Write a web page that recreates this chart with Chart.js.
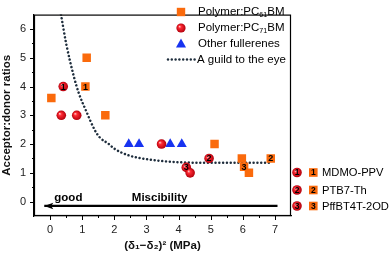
<!DOCTYPE html>
<html><head><meta charset="utf-8">
<script src="https://cdn.jsdelivr.net/npm/chart.js@4/dist/chart.umd.min.js"></script>
<style>html,body{margin:0;padding:0;background:#fff}#w{width:392px;height:255px;position:relative}</style>
</head><body><div id="w"><canvas id="c"></canvas></div>
<script>
// ---- data ----
const xTicks = [0, 1, 2, 3, 4, 5, 6, 7];
const yTicks = [0, 1, 2, 3, 4, 5, 6];
const pc61X = [0.04, 1.14, 1.10, 1.72, 5.12, 5.97, 6.04, 6.19, 6.87];
const pc61Y = [3.6, 5.0, 4.0, 3.0, 2.0, 1.5, 1.21, 1.0, 1.5];
const pc61Tags = ['', '', '1', '', '', '', '3', '', '2'];
const pc71X = [0.41, 0.35, 0.83, 3.47, 4.24, 4.36, 4.95];
const pc71Y = [4.0, 3.0, 3.0, 2.0, 1.19, 1.0, 1.5];
const pc71Tags = ['1', '', '', '', '3', '', '2'];
const otherX = [2.45, 2.77, 3.74, 4.10];
const otherY = [2.0, 2.0, 2.0, 2.0];
const guideX = [0.34, 0.5, 0.74, 0.9, 1.12, 1.38, 1.54, 1.83, 2.0, 2.47, 3.1, 4.0, 5.0, 6.0, 6.85];
const guideY = [6.5, 5.5, 4.35, 3.75, 3.16, 2.51, 2.24, 2.0, 1.84, 1.6, 1.46, 1.37, 1.35, 1.35, 1.35];
const arrowX = [7.08, -0.18];
const arrowY = [-0.15, -0.15];
const seriesNames = ['Polymer:PC61BM', 'Polymer:PC71BM', 'Other fullerenes', 'A guild to the eye'];
const polymerNames = ['MDMO-PPV', 'PTB7-Th', 'PffBT4T-2OD'];
const polymerTags = ['1', '2', '3'];

const ORANGE = '#fa6a0c', RED = '#e8101e', BLUE = '#1733f0', DOT = '#1e2d3c';
const FONT = '"Liberation Sans", Arial, sans-serif';

const pts = (xs, ys) => xs.map((x, i) => ({x, y: ys[i]}));

function redGrad(ctx, px, py, r) {
  const g = ctx.createRadialGradient(px - r * 0.35, py - r * 0.35, 0.2, px, py, r);
  g.addColorStop(0, '#ffc4c4');
  g.addColorStop(0.3, '#ff2a34');
  g.addColorStop(1, '#b2000c');
  return g;
}

function richText(ctx, parts, x, y, size, bold) {
  let cx = x;
  for (const p of parts) {
    const s = p.sub || p.sup ? size * 0.62 : size;
    ctx.font = (p.italic ? 'italic ' : '') + (bold ? 'bold ' : '') + s + 'px ' + FONT;
    const dy = p.sub ? size * 0.3 : (p.sup ? -size * 0.35 : 0);
    ctx.fillText(p.t, cx, y + dy);
    cx += ctx.measureText(p.t).width;
  }
}

const deco = {
  id: 'deco',
  beforeDatasetsDraw(chart) {
    const {ctx, chartArea: a, scales: {x, y}} = chart;
    ctx.save();
    ctx.strokeStyle = '#000';
    ctx.lineWidth = 1;
    ctx.beginPath();
    yTicks.forEach(v => {
      const py = Math.round(y.getPixelForValue(v)) + 0.5;
      ctx.moveTo(a.left - 4, py); ctx.lineTo(a.left, py);
      const m = v + 0.5;
      if (m < y.max) { const pm = Math.round(y.getPixelForValue(m)) + 0.5; ctx.moveTo(a.left - 2, pm); ctx.lineTo(a.left, pm); }
    });
    xTicks.forEach(v => {
      const px = Math.round(x.getPixelForValue(v)) + 0.5;
      ctx.moveTo(px, a.bottom); ctx.lineTo(px, a.bottom + 4);
      const m = v + 0.5;
      if (m < x.max) { const pm = Math.round(x.getPixelForValue(m)) + 0.5; ctx.moveTo(pm, a.bottom); ctx.lineTo(pm, a.bottom + 2); }
    });
    ctx.stroke();
    ctx.restore();
  },
  afterDatasetsDraw(chart) {
    const {ctx, chartArea: a, scales: {x, y}} = chart;
    ctx.save();
    // frame
    ctx.strokeStyle = '#000';
    ctx.lineWidth = 1.2;
    ctx.strokeRect(a.left + 0.5, a.top + 0.5, a.right - a.left - 1, a.bottom - a.top - 1);
    // arrow head
    const tx = x.getPixelForValue(arrowX[1]), ty = y.getPixelForValue(arrowY[1]);
    ctx.fillStyle = '#000';
    ctx.beginPath();
    ctx.moveTo(tx, ty); ctx.lineTo(tx + 9, ty - 3.2); ctx.lineTo(tx + 7, ty); ctx.lineTo(tx + 9, ty + 3.2);
    ctx.closePath(); ctx.fill();
    // arrow texts
    ctx.font = 'bold 11.5px ' + FONT;
    ctx.textAlign = 'center'; ctx.textBaseline = 'middle';
    ctx.fillText('good', x.getPixelForValue(0.57), y.getPixelForValue(0.14));
    ctx.fillText('Miscibility', x.getPixelForValue(3.41), y.getPixelForValue(0.14));
    // tags inside markers
    ctx.font = 'bold 9px ' + FONT;
    ctx.fillStyle = '#000';
    const tag = (xs, ys, tags) => tags.forEach((t, i) => {
      if (t) ctx.fillText(t, x.getPixelForValue(xs[i]), y.getPixelForValue(ys[i]) + 0.5);
    });
    tag(pc61X, pc61Y, pc61Tags);
    tag(pc71X, pc71Y, pc71Tags);
    // inner legend
    const lx = 181, tx0 = 198, rows = [12, 28, 44, 59.5];
    ctx.fillStyle = ORANGE; ctx.fillRect(lx - 4.2, rows[0] - 4.2, 8.4, 8.4);
    ctx.fillStyle = redGrad(ctx, lx, rows[1], 4.6);
    ctx.beginPath(); ctx.arc(lx, rows[1], 4.6, 0, Math.PI * 2); ctx.fill();
    ctx.fillStyle = BLUE; ctx.beginPath();
    ctx.moveTo(lx, rows[2] - 5.5); ctx.lineTo(lx + 5, rows[2] + 3.5); ctx.lineTo(lx - 5, rows[2] + 3.5); ctx.closePath(); ctx.fill();
    ctx.fillStyle = DOT;
    for (let dx = 168; dx <= 195; dx += 3.8) { ctx.beginPath(); ctx.arc(dx, rows[3], 1.2, 0, Math.PI * 2); ctx.fill(); }
    ctx.fillStyle = '#000'; ctx.textAlign = 'left'; ctx.textBaseline = 'middle';
    richText(ctx, [{t: 'Polymer:PC'}, {t: '61', sub: true}, {t: 'BM'}], tx0, rows[0], 11.5, false);
    richText(ctx, [{t: 'Polymer:PC'}, {t: '71', sub: true}, {t: 'BM'}], tx0, rows[1], 11.5, false);
    richText(ctx, [{t: seriesNames[2]}], tx0, rows[2], 11.5, false);
    richText(ctx, [{t: seriesNames[3]}], tx0 - 1, rows[3], 11.5, false);
    // outer legend
    const r2 = [172.5, 190, 206];
    polymerNames.forEach((n, i) => {
      const ry = r2[i];
      ctx.fillStyle = redGrad(ctx, 297, ry, 4.8);
      ctx.beginPath(); ctx.arc(297, ry, 4.8, 0, Math.PI * 2); ctx.fill();
      ctx.fillStyle = ORANGE; ctx.fillRect(309, ry - 4.3, 8.6, 8.6);
      ctx.fillStyle = '#000'; ctx.font = 'bold 8.5px ' + FONT; ctx.textAlign = 'center';
      ctx.fillText(polymerTags[i], 297, ry + 0.5);
      ctx.fillText(polymerTags[i], 313.3, ry + 0.5);
      ctx.textAlign = 'left'; ctx.font = '11.2px ' + FONT;
      ctx.fillText(n, 322, ry + 0.5);
    });
    ctx.restore();
  }
};

new Chart(document.getElementById('c'), {
  type: 'scatter',
  data: {
    datasets: [
      {label: seriesNames[3], data: pts(guideX, guideY), showLine: true, pointRadius: 0,
       borderColor: DOT, borderWidth: 2.5, borderDash: [0.01, 3.8], borderCapStyle: 'round',
       cubicInterpolationMode: 'monotone', order: 5},
      {label: 'arrow', data: pts(arrowX, arrowY), showLine: true, pointRadius: 0,
       borderColor: '#000', borderWidth: 2.2, order: 6},
      {label: seriesNames[0], data: pts(pc61X, pc61Y), pointStyle: 'rect', pointRadius: 6,
       backgroundColor: ORANGE, borderWidth: 0, order: 1},
      {label: seriesNames[1], data: pts(pc71X, pc71Y), pointStyle: 'circle', pointRadius: 4.8,
       borderWidth: 0, order: 2,
       backgroundColor: (c) => {
         const ch = c.chart;
         if (c.type !== 'data' || !c.parsed || !ch.scales || !ch.scales.x || !ch.scales.y) return RED;
         const px = ch.scales.x.getPixelForValue(c.parsed.x), py = ch.scales.y.getPixelForValue(c.parsed.y);
         if (!isFinite(px) || !isFinite(py)) return RED;
         return redGrad(ch.ctx, px, py, 4.8);
       }},
      {label: seriesNames[2], data: pts(otherX, otherY), pointStyle: 'triangle', pointRadius: 5.8,
       backgroundColor: BLUE, borderWidth: 0, order: 3}
    ]
  },
  options: {
    responsive: true, maintainAspectRatio: false, animation: false,
    layout: {padding: {top: 1, right: 101, left: 0, bottom: 0}},
    plugins: {legend: {display: false}, tooltip: {enabled: false}},
    scales: {
      x: {
        type: 'linear', min: -0.5, max: 7.5,
        afterBuildTicks: s => { s.ticks = xTicks.map(v => ({value: v})); },
        afterFit: s => { s.height = 39; },
        grid: {display: false, drawTicks: false},
        border: {display: true, color: '#000', width: 1.2},
        ticks: {padding: 7, color: '#222', font: {family: FONT, size: 11}, maxRotation: 0},
        title: {display: true, text: '(δ₁−δ₂)² (MPa)', color: '#111',
                font: {family: FONT, size: 11.5, weight: 'bold'}, padding: {top: 0, bottom: 2}}
      },
      y: {
        type: 'linear', min: -0.5, max: 6.5,
        afterBuildTicks: s => { s.ticks = yTicks.map(v => ({value: v})); },
        afterFit: s => { s.width = 34; },
        grid: {display: false, drawTicks: false},
        border: {display: true, color: '#000', width: 1.2},
        ticks: {padding: 8, color: '#222', font: {family: FONT, size: 11}},
        title: {display: true, text: 'Acceptor:donor ratios', color: '#111',
                font: {family: FONT, size: 11.5, weight: 'bold'}, padding: {top: 0, bottom: 0}}
      }
    }
  },
  plugins: [deco]
});
</script>
</body></html>
